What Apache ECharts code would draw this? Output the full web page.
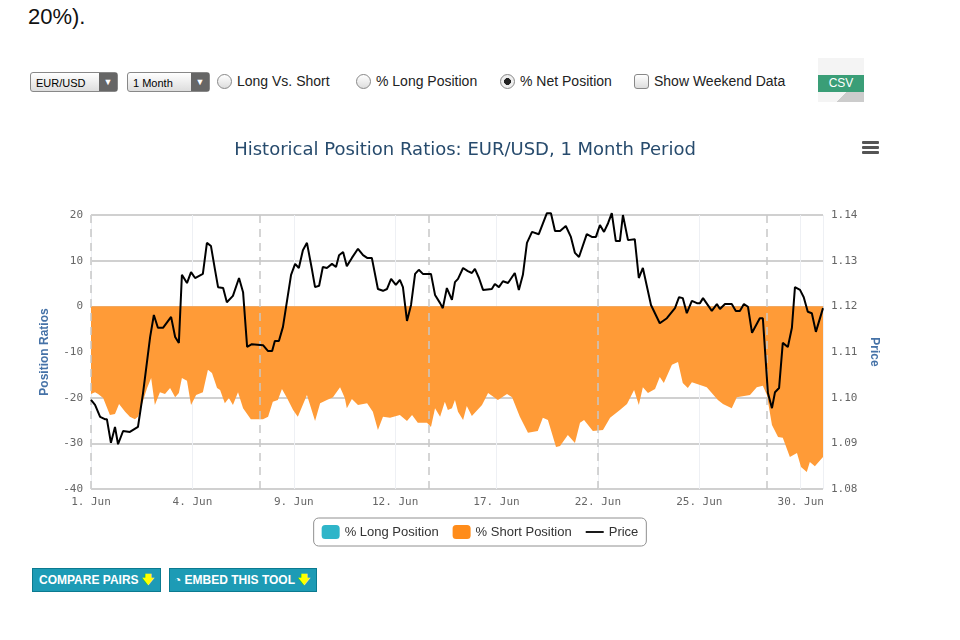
<!DOCTYPE html>
<html><head><meta charset="utf-8">
<script src="https://cdn.jsdelivr.net/npm/echarts@6/dist/echarts.min.js"></script>
<style>
body{margin:0;width:960px;height:640px;background:#fff;font-family:"Liberation Sans",Arial,sans-serif;position:relative;overflow:hidden}
.abs{position:absolute}
.sel{top:72px;height:20px;border:1px solid #888;border-radius:3px;background:linear-gradient(#fff,#ddd);font-size:11px;line-height:20px;padding-left:5px;box-sizing:border-box}
.sel b{position:absolute;right:0;top:0;width:18px;height:18px;background:#666;color:#fff;font-size:9px;text-align:center;line-height:18px}
.rad{top:73px;font-size:14px;color:#222;display:flex;align-items:center}
.rad i{display:inline-block;width:15px;height:15px;border:1px solid #888;border-radius:50%;margin-right:5px;box-sizing:border-box;background:linear-gradient(#fff,#ddd)}
.btn{top:568px;height:22px;background:#1d9bb5;color:#fff;font-size:12px;font-weight:bold;line-height:22px;padding:0 6px;border:1px solid #0b7a90}
#c{position:absolute;left:0;top:0;width:960px;height:640px}
</style></head><body>
<div class="abs" style="left:28px;top:4px;font-size:22px;color:#111">20%).</div>
<div class="abs sel" style="left:30px;width:88px">EUR/USD<b>▼</b></div>
<div class="abs sel" style="left:127px;width:83px">1 Month<b>▼</b></div>
<div class="abs rad" style="left:217px"><i></i>Long Vs. Short</div>
<div class="abs rad" style="left:356px"><i></i>% Long Position</div>
<div class="abs rad" style="left:500px"><i style="background:radial-gradient(#222 35%,#eee 40%)"></i>% Net Position</div>
<div class="abs rad" style="left:634px"><i style="border-radius:3px"></i>Show Weekend Data</div>
<div class="abs" style="left:818px;top:58px;width:46px;height:44px;background:linear-gradient(135deg,#f4f4f4 70%,#ccc 70%)"></div>
<div class="abs" style="left:818px;top:75px;width:46px;height:17px;background:#3a9e77;color:#fff;font-size:12px;text-align:center;line-height:17px">CSV</div>
<div class="abs btn" style="left:32px">COMPARE PAIRS <span style="color:#ff0">🡇</span></div>
<div class="abs btn" style="left:169px;padding-left:4px">◔ EMBED THIS TOOL <span style="color:#ff0">🡇</span></div>
<div id="c"></div>
<script>
const dayLabels = ['1. Jun','4. Jun','9. Jun','12. Jun','17. Jun','22. Jun','25. Jun','30. Jun'];
const weekendBreaks = [0,5,10,15,20];
const priceT = [0,.12,.27,.41,.47,.59,.71,.80,.95,1.15,1.39,1.54,1.75,1.86,1.98,2.13,2.37,2.49,2.60,2.69,2.84,2.96,3.08,3.31,3.43,3.55,3.67,3.76,3.91,4.02,4.20,4.38,4.50,4.62,4.76,5.09,5.24,5.36,5.44,5.56,5.68,5.92,6.04,6.15,6.27,6.39,6.54,6.63,6.75,6.86,6.98,7.13,7.25,7.34,7.46,7.57,7.72,7.90,8.05,8.17,8.31,8.49,8.64,8.76,8.88,9.02,9.14,9.23,9.35,9.47,9.59,9.70,9.82,10.06,10.18,10.33,10.41,10.53,10.68,10.77,10.86,11.01,11.15,11.27,11.36,11.48,11.60,11.86,11.95,12.07,12.19,12.34,12.54,12.66,12.78,12.90,13.05,13.25,13.49,13.61,13.73,13.88,14.05,14.20,14.32,14.44,14.67,14.82,14.94,15.06,15.18,15.30,15.41,15.53,15.65,15.74,15.89,16.09,16.21,16.33,16.57,16.83,17.04,17.28,17.40,17.51,17.63,17.78,17.93,18.02,18.11,18.37,18.52,18.61,18.76,18.96,19.08,19.20,19.32,19.44,19.56,19.79,19.88,20.03,20.15,20.24,20.36,20.47,20.62,20.74,20.83,20.98,21.09,21.21,21.33,21.45,21.66];
const priceV = [1.0995,1.0984,1.0958,1.0953,1.0953,1.0901,1.0936,1.0898,1.0927,1.0925,1.0936,1.1010,1.1133,1.1181,1.1153,1.1153,1.1177,1.1133,1.1120,1.1269,1.1251,1.1275,1.1262,1.1271,1.1339,1.1332,1.1280,1.1242,1.1240,1.1209,1.1223,1.1262,1.1231,1.1111,1.1117,1.1115,1.1102,1.1102,1.1124,1.1124,1.1155,1.1269,1.1293,1.1284,1.1323,1.1339,1.1280,1.1242,1.1245,1.1286,1.1284,1.1293,1.1286,1.1312,1.1319,1.1288,1.1306,1.1326,1.1312,1.1306,1.1306,1.1238,1.1234,1.1238,1.1260,1.1247,1.1258,1.1242,1.1168,1.1203,1.1271,1.1280,1.1271,1.1271,1.1225,1.1207,1.1196,1.1240,1.1214,1.1253,1.1260,1.1284,1.1277,1.1273,1.1282,1.1262,1.1236,1.1238,1.1249,1.1242,1.1255,1.1251,1.1273,1.1236,1.1269,1.1339,1.1363,1.1358,1.1404,1.1404,1.1365,1.1365,1.1376,1.1352,1.1317,1.1308,1.1358,1.1352,1.1352,1.1378,1.1363,1.1382,1.1404,1.1343,1.1343,1.1400,1.1345,1.1347,1.1262,1.1284,1.1203,1.1163,1.1174,1.1196,1.1220,1.1218,1.1185,1.1212,1.1207,1.1207,1.1218,1.1190,1.1205,1.1194,1.1205,1.1205,1.1190,1.1190,1.1205,1.1199,1.1142,1.1174,1.1174,1.1010,1.0977,1.1012,1.1021,1.1120,1.1111,1.1153,1.1242,1.1236,1.1220,1.1188,1.1185,1.1144,1.1196];
const shortT = [0,.12,.21,.36,.56,.71,.83,1.01,1.15,1.30,1.39,1.66,1.78,1.89,2.04,2.19,2.34,2.49,2.60,2.69,2.84,2.96,3.11,3.31,3.46,3.58,3.73,3.82,3.96,4.08,4.20,4.35,4.50,4.73,4.91,5.09,5.24,5.38,5.53,5.65,5.80,5.98,6.12,6.39,6.63,6.78,6.98,7.16,7.37,7.51,7.57,7.72,7.90,8.17,8.34,8.49,8.64,8.85,9.14,9.35,9.50,9.67,9.94,10.06,10.18,10.33,10.47,10.56,10.68,10.77,10.86,11.01,11.12,11.27,11.57,11.75,12.04,12.31,12.46,12.69,12.93,13.22,13.37,13.52,13.76,13.88,14.11,14.32,14.47,14.59,14.85,15.15,15.36,15.65,15.86,16.07,16.21,16.33,16.48,16.69,16.83,16.95,17.19,17.37,17.51,17.66,17.78,18.22,18.55,18.70,18.96,19.11,19.50,19.70,19.88,20.00,20.15,20.33,20.47,20.68,20.89,21.01,21.18,21.27,21.42,21.66];
const shortV = [-19.2,-18.8,-19.2,-20.1,-23.8,-23.6,-21.4,-23.1,-24.2,-24.7,-24.2,-17.9,-15.7,-21.6,-18.8,-19.2,-17.9,-19.9,-19.0,-15.7,-16.3,-21.6,-19.4,-18.8,-13.9,-14.6,-17.9,-18.3,-21.2,-20.1,-21.6,-18.8,-22.3,-24.7,-24.7,-24.7,-24.2,-20.9,-20.5,-18.1,-20.1,-22.7,-24.2,-19.4,-25.1,-21.2,-20.5,-19.9,-17.7,-20.1,-22.3,-20.3,-21.6,-21.2,-23.1,-27.1,-24.2,-24.4,-23.8,-25.1,-23.8,-25.5,-25.5,-26.4,-22.3,-24.2,-20.9,-22.7,-22.3,-20.5,-23.1,-24.9,-21.8,-24.0,-21.6,-19.0,-20.5,-19.2,-19.9,-24.2,-27.7,-27.3,-24.4,-24.9,-30.8,-30.6,-28.2,-29.9,-25.5,-24.9,-27.3,-27.1,-24.4,-22.7,-21.4,-18.3,-21.6,-17.7,-19.0,-18.1,-15.5,-16.8,-12.8,-12.2,-16.8,-17.9,-16.6,-17.7,-20.5,-21.4,-22.3,-19.9,-19.4,-17.7,-17.4,-19.4,-26.0,-28.6,-28.8,-33.0,-32.1,-35.2,-36.3,-34.1,-35.0,-33.0];
const longV = [];

const chart = echarts.init(document.getElementById('c'));
const zip = (a,b)=>a.map((t,i)=>[t,b[i]]);
const axisNameStyle = {color:'#4572A7',fontWeight:'bold',fontSize:12,fontFamily:'Liberation Sans'};
chart.setOption({
  animation:false,
  title:{text:'Historical Position Ratios: EUR/USD, 1 Month Period',left:460,top:136,textAlign:'center',
    textStyle:{color:'#274b6d',fontSize:18,fontWeight:'normal',fontFamily:'DejaVu Sans'}},
  graphic:[{type:'group',left:862,top:141,children:[0,5,10].map(y=>({type:'rect',shape:{x:0,y:y,width:17,height:3,r:1},style:{fill:'#555'}}))}],
  legend:{top:518,left:'center',itemGap:14,borderColor:'#909090',borderWidth:1,borderRadius:5,padding:[7,8],
    itemWidth:18,itemHeight:14,textStyle:{fontSize:13,color:'#333',fontFamily:'Liberation Sans'},
    data:[{name:'% Long Position',icon:'roundRect'},{name:'% Short Position',icon:'roundRect'},{name:'Price',icon:'path://M0,6H20V8H0Z'}]},
  grid:{left:91,right:137,top:215,bottom:151},
  xAxis:{type:'value',min:0,max:21.66,interval:3,
    axisLine:{lineStyle:{color:'#C0D0E0',width:2}},axisTick:{show:true,length:5,lineStyle:{color:'#C0D0E0'}},
    splitLine:{show:true,lineStyle:{color:'#eef0f4'}},
    axisLabel:{color:'#666',fontSize:11,fontFamily:'DejaVu Sans Mono',formatter:(v)=>dayLabels[Math.round(v/3)]||'',showMaxLabel:false}},
  yAxis:[
    {type:'value',min:-40,max:20,interval:10,name:'Position Ratios',nameLocation:'middle',nameGap:40,nameTextStyle:axisNameStyle,
     axisTick:{show:false},axisLabel:{color:'#666',fontSize:11,fontFamily:'DejaVu Sans Mono'},splitLine:{lineStyle:{color:'#C0C0C0',width:1.5}},axisLine:{show:false}},
    {type:'value',min:1.08,max:1.14,interval:0.01,name:'Price',nameLocation:'middle',nameGap:40,nameRotate:-90,nameTextStyle:axisNameStyle,
     axisTick:{show:false},axisLabel:{color:'#666',fontSize:11,fontFamily:'DejaVu Sans Mono',formatter:v=>v.toFixed(2)},splitLine:{show:false},axisLine:{show:false}}
  ],
  series:[
    {name:'% Long Position',type:'line',data:longV,itemStyle:{color:'#2fb5c9'}},
    {name:'% Short Position',type:'line',data:zip(shortT,shortV),symbol:'none',lineStyle:{width:0},
     itemStyle:{color:'#ff8c1a'},areaStyle:{color:'#ff9b37',opacity:1},
     markLine:{silent:true,symbol:'none',label:{show:false},lineStyle:{color:'#c8c8c8',type:[8,6],width:1.5},
       data:weekendBreaks.map(x=>({xAxis:x}))}},
    {name:'Price',type:'line',yAxisIndex:1,clip:false,data:zip(priceT,priceV),symbol:'none',lineStyle:{color:'#000',width:2},itemStyle:{color:'#000'},z:5}
  ]
});
</script></body></html>
